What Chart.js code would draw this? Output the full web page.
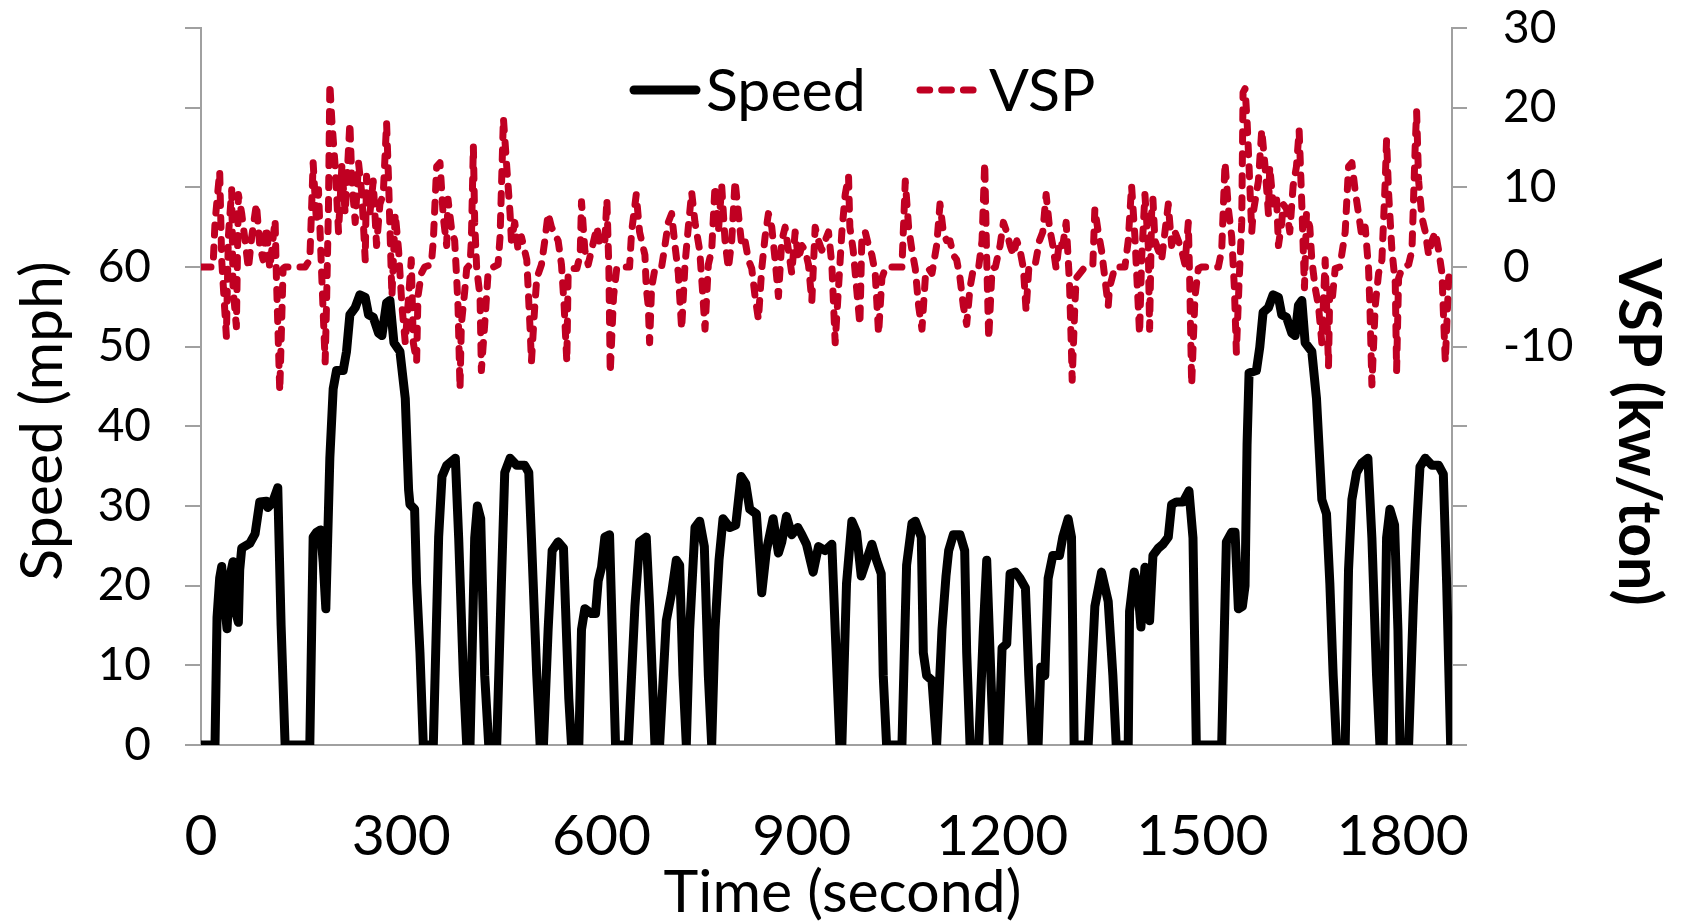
<!DOCTYPE html>
<html>
<head>
<meta charset="utf-8">
<title>Speed and VSP</title>
<script src="https://cdn.jsdelivr.net/npm/chart.js@4.4.1/dist/chart.umd.min.js"></script>
<style>
  html, body { margin: 0; padding: 0; background: #fff; }
  #chart { display: block; }
</style>
</head>
<body>
<canvas id="chart" width="1683" height="924"></canvas>
<script>
// x ticks shown on the time axis
const timeTicks = [0, 300, 600, 900, 1200, 1500, 1800];

// speed trace (mph)
const speedTime = [
  0, 21, 24, 28, 31, 35, 39, 43, 48, 51, 56, 58, 61, 73, 81, 88, 98, 100, 107, 115, 120, 126,
  163, 168, 173, 179, 183, 187, 193, 198, 203, 213, 218, 223, 231, 238, 246, 251, 258, 266, 271,
  278, 283, 289, 298, 306, 311, 313, 320, 323, 328, 333, 348, 356, 361, 368, 381, 386, 393, 398,
  403, 410, 414, 419, 425, 431, 443, 450, 455, 463, 473, 485, 491, 495, 503, 508, 513, 520, 526,
  535, 543, 546, 551, 555, 566, 570, 575, 585, 591, 595, 600, 605, 612, 616, 621, 640, 650, 657,
  667, 672, 680, 687, 697, 705, 712, 717, 722, 727, 732, 740, 747, 754, 760, 765, 770, 776, 782,
  792, 801, 809, 816, 822, 832, 840, 847, 857, 865, 870, 877, 885, 894, 900, 907, 917, 925, 935,
  945, 950, 957, 960, 967, 975, 982, 989, 997, 1005, 1012, 1019, 1022, 1027, 1050, 1057, 1065,
  1070, 1079, 1082, 1087, 1095, 1102, 1110, 1116, 1120, 1127, 1137, 1144, 1147, 1152, 1165, 1172,
  1177, 1182, 1187, 1195, 1200, 1207, 1212, 1220, 1227, 1235, 1240, 1245, 1254, 1258, 1264, 1269,
  1276, 1286, 1291, 1299, 1304, 1308, 1329, 1339, 1349, 1359, 1366, 1371, 1389, 1391, 1398, 1403,
  1408, 1414, 1421, 1426, 1434, 1441, 1449, 1454, 1461, 1471, 1480, 1486, 1491, 1529, 1536, 1544,
  1549, 1554, 1560, 1564, 1567, 1570, 1581, 1586, 1591, 1599, 1606, 1614, 1619, 1626, 1634, 1639,
  1644, 1649, 1654, 1664, 1671, 1679, 1686, 1691, 1696, 1701, 1714, 1719, 1724, 1731, 1739, 1748,
  1754, 1761, 1766, 1771, 1776, 1781, 1788, 1793, 1796, 1809, 1816, 1821, 1826, 1834, 1844, 1854,
  1861, 1866, 1872
];
const speedMph = [
  0, 0, 16, 21, 22.4, 18, 14.6, 21, 23, 17, 15.4, 22, 24.7, 25.3, 26.5, 30.5, 30.6, 29.8, 30.4, 32.3, 15, 0,
  0, 26.1, 26.7, 27, 23, 17.1, 36, 44.7, 47, 47, 49.4, 54, 54.9, 56.5, 56.2, 54, 53.7, 51.7, 51.4,
  55.5, 55.8, 50.5, 49.4, 43.5, 32, 30.2, 29.6, 20.3, 11.6, 0, 0, 26.1, 33.7, 35.1, 36, 26, 8.7, 0,
  0, 26, 30, 28.4, 8.7, 0, 0, 20.3, 34.2, 36, 35.1, 35.1, 34.2, 26, 8.7, 0, 0, 14.5, 24.4,
  25.5, 24.7, 17.4, 5.8, 0, 0, 14.5, 17.1, 16.5, 16.5, 20.6, 22.3, 26.1, 26.4, 14.5, 0, 0, 17.4, 25.5,
  26.1, 17.4, 0, 0, 15.6, 19.1, 23.2, 22.6, 8.7, 0, 14.5, 27.3, 28.1, 24.9, 8.7, 0, 14.5, 23.2, 28.4,
  27.3, 27.6, 33.7, 32.8, 29.6, 29, 19.1, 24.4, 28.4, 24.1, 25.5, 28.7, 26.4, 27.3, 26.4, 25.2, 21.7, 24.9, 24.4,
  25.2, 14.5, 0, 0, 20.3, 28.1, 26.7, 21.2, 23.2, 25.2, 23.2, 21.5, 8.7, 0, 0, 22.6, 27.8,
  28.1, 26.1, 11.6, 8.7, 8.1, 0, 14.5, 21.2, 24.4, 26.4, 26.4, 24.4, 11.6, 0, 0, 14.5,
  23.2, 11.6, 0, 0, 12.2, 12.7, 21.5, 21.7, 20.9, 19.7, 8.7, 0, 0, 9.8, 8.7, 20.9,
  23.8, 23.8, 26.1, 28.4, 26.1, 0, 0, 17.4, 21.7, 18, 8.7, 0, 0, 16.8, 21.7, 20,
  14.8, 22.3, 15.6, 23.8, 24.7, 25.2, 26.1, 30.2, 30.5, 30.5, 31.9, 26, 0, 0, 25.5, 26.7,
  26.7, 17.1, 17.4, 20, 37.7, 46.7, 47, 49.9, 54.3, 54.9, 56.5, 56.2, 54, 53.7, 51.7, 51.4,
  55.2, 55.8, 50.5, 49.4, 43.5, 30.8, 29, 20.3, 8.7, 0, 0, 22, 30.8, 34.2, 35.4, 36,
  26, 8.7, 0, 0, 26, 29.6, 27.6, 14.5, 0, 0, 17.4, 27.3, 34.9, 36, 35.1, 35.1,
  34, 20.3, 0
];

// vehicle specific power (kw/ton)
const vspTime = [
  0, 18, 21, 28, 31, 38, 41, 46, 48, 53, 56, 61, 66, 71, 76, 83, 88, 93, 98, 103, 111, 113, 118, 123,
  126, 156, 163, 168, 173, 176, 181, 186, 188, 191, 193, 196, 201, 206, 211, 216, 223, 226, 231, 236,
  241, 246, 248, 253, 258, 263, 268, 273, 278, 281, 286, 291, 296, 301, 306, 310, 315, 318, 323, 325,
  330, 335, 345, 348, 353, 358, 363, 368, 370, 375, 380, 383, 385, 388, 390, 395, 398, 403, 405, 408,
  410, 413, 418, 420, 425, 430, 438, 445, 448, 453, 458, 463, 465, 470, 475, 480, 488, 493, 495, 500,
  503, 510, 515, 520, 525, 535, 540, 544, 548, 550, 555, 563, 568, 570, 575, 580, 585, 593, 598, 605,
  608, 611, 613, 618, 623, 642, 645, 652, 657, 665, 667, 670, 672, 675, 680, 690, 695, 700, 705, 710,
  715, 720, 725, 730, 735, 740, 747, 751, 755, 760, 765, 770, 775, 780, 785, 790, 795, 800, 805, 810,
  815, 820, 825, 830, 835, 840, 845, 850, 855, 860, 865, 870, 875, 880, 885, 890, 895, 900, 905, 910,
  915, 920, 925, 930, 935, 940, 945, 950, 955, 960, 965, 970, 972, 977, 982, 987, 990, 995, 1000, 1005,
  1010, 1015, 1020, 1025, 1027, 1050, 1055, 1060, 1065, 1070, 1075, 1080, 1085, 1090, 1095, 1102, 1107,
  1112, 1117, 1122, 1127, 1132, 1137, 1142, 1147, 1152, 1157, 1165, 1170, 1174, 1177, 1180, 1185, 1190,
  1197, 1202, 1207, 1212, 1217, 1222, 1227, 1232, 1236, 1240, 1249, 1256, 1261, 1266, 1271, 1276, 1281,
  1286, 1291, 1296, 1301, 1304, 1305, 1309, 1311, 1324, 1336, 1339, 1344, 1349, 1354, 1359, 1361, 1369,
  1384, 1389, 1394, 1399, 1404, 1406, 1409, 1414, 1419, 1421, 1424, 1426, 1429, 1434, 1439, 1444, 1449,
  1454, 1459, 1464, 1469, 1474, 1479, 1481, 1484, 1489, 1494, 1499, 1524, 1529, 1534, 1539, 1544, 1548,
  1551, 1555, 1559, 1561, 1564, 1567, 1570, 1574, 1576, 1584, 1589, 1594, 1599, 1601, 1606, 1611, 1614,
  1619, 1621, 1626, 1631, 1636, 1641, 1645, 1649, 1653, 1656, 1661, 1664, 1669, 1674, 1679, 1684, 1689,
  1691, 1695, 1699, 1706, 1714, 1719, 1724, 1729, 1734, 1739, 1744, 1749, 1751, 1754, 1759, 1764, 1769,
  1774, 1776, 1779, 1784, 1789, 1791, 1794, 1799, 1809, 1814, 1819, 1821, 1824, 1829, 1834, 1839, 1844,
  1849, 1854, 1859, 1861, 1864, 1869, 1872
];
const vspValue = [
  0, 0, 5.6, 12, 0.9, -8.7, 3.8, 9.7, -2.6, -7.5, 9.1, 6.7, 3.3, -0.2, 3.8, 7.9, 2.7, 0.9, 5, -0.2, 5.9, -1.4, -15.6, -0.2,
  0, 0, 0.9, 13.1, 5.6, 9.7, -1.4, -11.9, -4.9, 7.9, 23, 18.4, 12.6, 4.4, 12.6, 6.7, 18.1, 10.8, 5.6, 13.1,
  9.1, 0.9, 11.4, 6.7, 10.8, 2.7, 7.9, 9.1, 18.1, 10.8, -3.7, 6.7, 2.1, -4.9, -9.5, -4.9, 0.9, -9.5, -11.9, -3.7,
  -0.8, 0, 0.3, 3.3, 12.6, 13.1, 6.2, 2.7, 8.5, 5, 3.3, -1.4, -4.9, -15.3, -7.2, -3.1, -0.2, 0.3, 3.3, 15.2,
  5.6, -0.2, -3.7, -13, -7.2, -0.8, 0, 0.3, 3.8, 18.7, 12.6, 6.7, 3.3, 5.6, 2.1, 3.8, 0.9, -7.8, -11.9, -4.9,
  -1.4, 0.3, 3.3, 6.7, 5, 3.3, 0.3, -4.9, -11.9, -0.8, -0.2, -0.2, 1.5, 8.2, 2.1, 0.3, 2.1, 5, 2.7, 3.3,
  8.5, -0.2, -13.3, -3.7, 0, 0, 4.4, 9.1, 4.4, 1.5, -2.6, -4.9, -9.5, -2.6, -0.2, 0, 2.7, 5.6, 6.7, 2.7,
  -0.8, -7.8, 0.3, 5, 9.4, 5.6, 2.1, -2.6, -7.8, 0.3, 2.1, 10.2, 4.4, 10.2, 3.3, -0.2, 3.3, 10.8, 6.7, 2.7,
  3.3, 0.9, -0.2, -3.7, -6.6, -0.2, 3.8, 6.7, 5, 0.9, -3.7, 3.3, 5, 2.1, -0.8, 4.4, 0.9, 2.7, 2.1, 0.3,
  -4.3, 5, 3.3, 2.1, 3.3, 4.4, 0.3, -9.5, -2.6, 4.4, 9.1, 11.4, 5, 2.1, -2.6, -7.2, 3.8, 4.4, 2.7, 1.5,
  -0.8, -8.4, -1.4, -0.2, 0, 0, 10.8, 5, 2.1, -0.2, -4.9, -7.8, -1.4, -0.2, -0.8, 2.7, 7.9,
  4.4, 3.3, 3.3, 1.5, 0.9, -1.4, -4.9, -7.2, -2.6, -0.2, 0, 3.3, 13.1, 0.9, -9, -0.2, 0,
  2.7, 5.6, 4.4, 2.7, 1.5, 3.3, 2.1, -0.2, -5.5, -0.2, 0, 3.3, 4.4, 9.1, 5, 2.7, -0.2,
  3.3, 2.7, 5.6, -2, -10.7, -14.2, -4.9, -1.4, 0, 0.3, 7.3, 4.4, 2.1, -1.4, -4.9, -2.6, 0,
  0, 3.3, 10.2, 3.8, -4.9, -8.4, 0.9, 9.1, 2.7, -7.8, 6.7, 8.5, 3.3, 2.1, 0.9, 4.4, 7.9,
  2.7, 4.4, 3.3, 2.1, 0.3, 5.6, -1.4, -14.8, -3.7, -0.2, 0, 0, 2.1, 13.1, 7.3, 3.8, -2.6,
  -10.7, -2, 5.6, 21.9, 22.4, 18.4, 12.6, 4.4, 6.7, 10.8, 17.2, 12.6, 6.7, 12.6, 7.9, 9.1, 2.7,
  5.6, 7.9, 7.3, 4.4, 10.2, 12.6, 17.2, 7.9, -2.6, 6.7, 5, 0.9, -2.6, -4.9, -9.5, 0.9, -12.4,
  -2.6, -3.7, -0.2, 0, 4.4, 12.6, 13.1, 9.5, 6.7, 3.8, 5, -0.2, -4.9, -14.8, -4.9, -0.8, 0.9,
  10.8, 16, 9.3, 2.1, -2, -13, -1.4, -0.2, 0.3, 2.1, 15.5, 19.5, 10.8, 6.2, 4.4, 1.5, 3.3,
  4.4, 2.1, -0.8, -5.5, -11.9, -1.4, 0
];

const axisGray = '#a0a0a0';
const vspRed = '#c00022';

// axis titles and legend, placed like the original figure
const figureText = {
  id: 'figureText',
  afterDraw(chart) {
    const ctx = chart.ctx;
    const ca = chart.chartArea;
    ctx.save();
    ctx.fillStyle = '#000';
    ctx.textBaseline = 'alphabetic';

    ctx.font = '59px Lato';
    ctx.textAlign = 'center';
    ctx.fillText('Time (second)', (ca.left + ca.right) / 2 + 16, 912);

    ctx.save();
    ctx.translate(62, 421);
    ctx.rotate(-Math.PI / 2);
    ctx.fillText('Speed (mph)', 0, 0);
    ctx.restore();

    ctx.save();
    ctx.font = 'bold 59px Lato';
    ctx.translate(1619, 432);
    ctx.rotate(Math.PI / 2);
    ctx.fillText('VSP (kw/ton)', 0, 0);
    ctx.restore();

    // legend
    const ly = 90;
    ctx.lineCap = 'round';
    ctx.strokeStyle = '#000';
    ctx.lineWidth = 9;
    ctx.beginPath();
    ctx.moveTo(634, ly);
    ctx.lineTo(696, ly);
    ctx.stroke();

    ctx.strokeStyle = vspRed;
    ctx.lineWidth = 7;
    ctx.setLineDash([9.7, 12]);
    ctx.beginPath();
    ctx.moveTo(920, ly);
    ctx.lineTo(975, ly);
    ctx.stroke();
    ctx.setLineDash([]);

    ctx.textAlign = 'left';
    ctx.font = '59px Lato';
    ctx.fillText('Speed', 706, ly + 21);
    ctx.fillText('VSP', 989, ly + 21);
    ctx.restore();
  }
};

const noPad = axis => {
  axis.paddingTop = 0;
  axis.paddingBottom = 0;
  axis.paddingLeft = 0;
  axis.paddingRight = 0;
};

const ctx = document.getElementById('chart').getContext('2d');

new Chart(ctx, {
  type: 'line',
  data: {
    datasets: [{
      label: 'VSP',
      data: vspTime.map((t, i) => ({x: t, y: vspValue[i]})),
      yAxisID: 'yVsp',
      borderColor: vspRed,
      borderWidth: 7,
      borderDash: [10, 12],
      borderCapStyle: 'round',
      borderJoinStyle: 'round',
      pointRadius: 0,
      tension: 0
    }, {
      label: 'Speed',
      data: speedTime.map((t, i) => ({x: t, y: speedMph[i]})),
      yAxisID: 'ySpeed',
      borderColor: '#000',
      borderWidth: 9,
      borderCapStyle: 'round',
      borderJoinStyle: 'round',
      pointRadius: 0,
      tension: 0
    }]
  },
  options: {
    responsive: false,
    animation: false,
    devicePixelRatio: 1,
    layout: { padding: { top: 28, left: 0, right: 0, bottom: 0 } },
    plugins: {
      legend: { display: false },
      tooltip: { enabled: false }
    },
    scales: {
      x: {
        type: 'linear',
        min: 0,
        max: 1874,
        afterBuildTicks: axis => { axis.ticks = timeTicks.map(v => ({value: v})); },
        afterFit: axis => { axis.height = 179; noPad(axis); },
        ticks: {
          autoSkip: false,
          maxRotation: 0,
          padding: 55,
          color: '#000',
          font: { family: 'Lato', size: 57, lineHeight: 1 },
          callback: v => String(v)
        },
        grid: { display: false },
        border: { display: true, color: axisGray, width: 2 }
      },
      ySpeed: {
        position: 'left',
        min: 0,
        max: 90,
        afterFit: axis => { axis.width = 201; noPad(axis); },
        ticks: {
          stepSize: 10,
          padding: 34,
          color: '#000',
          font: { family: 'Lato', size: 46 },
          callback: v => (v <= 60 ? String(v) : '')
        },
        grid: { drawOnChartArea: false, drawTicks: true, tickLength: 16, tickColor: axisGray, tickWidth: 2, lineWidth: 2 },
        border: { display: true, color: axisGray, width: 2 }
      },
      yVsp: {
        position: 'right',
        min: -60,
        max: 30,
        afterFit: axis => { axis.width = 231; noPad(axis); },
        ticks: {
          stepSize: 10,
          padding: 36,
          color: '#000',
          font: { family: 'Lato', size: 46 },
          callback: v => (v >= -10 ? String(v) : '')
        },
        grid: { drawOnChartArea: false, drawTicks: true, tickLength: 15, tickColor: axisGray, tickWidth: 2, lineWidth: 2 },
        border: { display: true, color: axisGray, width: 2 }
      }
    }
  },
  plugins: [figureText]
});
</script>
</body>
</html>
